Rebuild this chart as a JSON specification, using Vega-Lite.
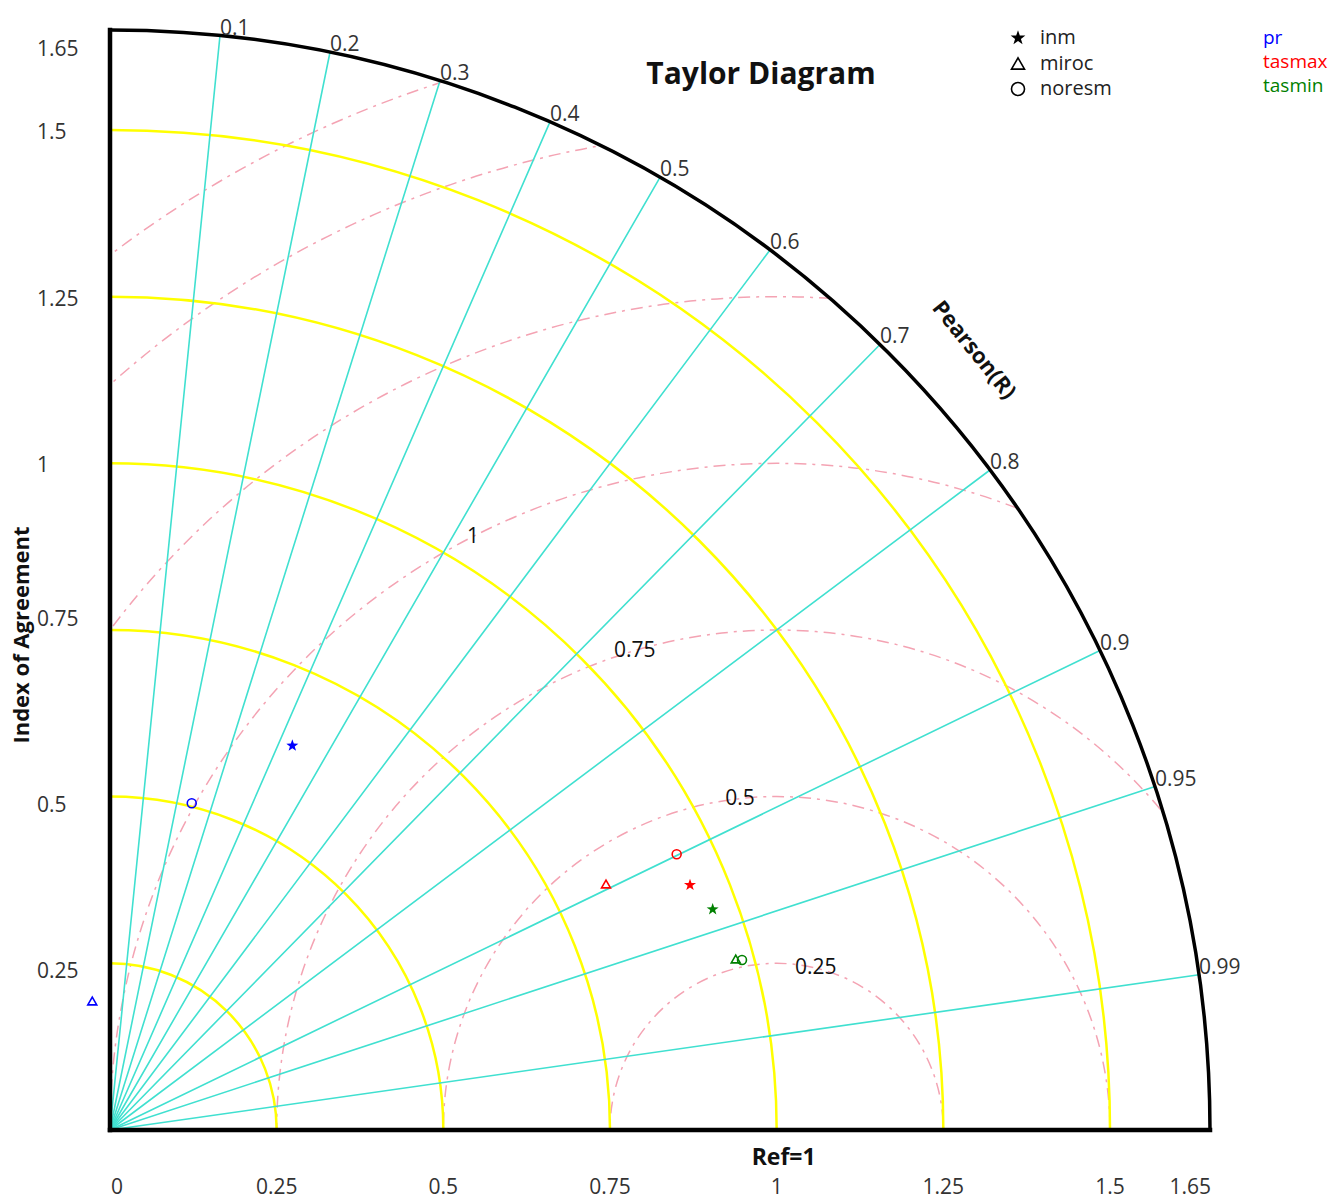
{
  "$schema": "https://vega.github.io/schema/vega-lite/v6.json",
  "width": 1100,
  "height": 1100,
  "autosize": {"type": "none"},
  "padding": {"left": 110, "top": 30, "right": 119, "bottom": 71},
  "background": "white",
  "config": {"view": {"stroke": null}, "font": "Open Sans"},
  "resolve": {"scale": {"yOffset": "independent"}},
  "datasets": {
    "pinkRings": [{"rho": 0.25}, {"rho": 0.5}, {"rho": 0.75}, {"rho": 1.0}, {"rho": 1.25}, {"rho": 1.5}, {"rho": 1.65}],
    "yellowRings": [{"r": 0.25}, {"r": 0.5}, {"r": 0.75}, {"r": 1.0}, {"r": 1.25}, {"r": 1.5}],
    "corr": [
      {"R": "0.1", "phi": 84.261},
      {"R": "0.2", "phi": 78.463},
      {"R": "0.3", "phi": 72.542},
      {"R": "0.4", "phi": 66.422},
      {"R": "0.5", "phi": 60.0},
      {"R": "0.6", "phi": 53.13},
      {"R": "0.7", "phi": 45.573},
      {"R": "0.8", "phi": 36.87},
      {"R": "0.9", "phi": 25.842},
      {"R": "0.95", "phi": 18.195},
      {"R": "0.99", "phi": 8.11}
    ],
    "pinkLabels": [
      {"rho": 0.25, "phi": 76.4, "label": "0.25"},
      {"rho": 0.5, "phi": 96.3, "label": "0.5"},
      {"rho": 0.75, "phi": 106.5, "label": "0.75"},
      {"rho": 1.0, "phi": 117.1, "label": "1"}
    ],
    "masks": [
      {"part": "outside quadrant", "from": 0, "to": -270, "r1": 2.8, "r0": 0},
      {"part": "beyond outer arc", "from": 90, "to": 0, "r1": 2.8, "r0": 1.65}
    ],
    "xTicks": [{"v": 0}, {"v": 0.25}, {"v": 0.5}, {"v": 0.75}, {"v": 1}, {"v": 1.25}, {"v": 1.5}, {"v": 1.65}],
    "yTicks": [{"v": 0.25}, {"v": 0.5}, {"v": 0.75}, {"v": 1}, {"v": 1.25}, {"v": 1.5}, {"v": 1.65}],
    "modelKeys": [{"model": "inm"}, {"model": "miroc"}, {"model": "noresm"}],
    "varKeys": [{"variable": "pr"}, {"variable": "tasmax"}, {"variable": "tasmin"}],
    "models": [
      {"variable": "pr", "model": "inm", "sx": 0.2735, "sy": 0.5765},
      {"variable": "pr", "model": "miroc", "sx": -0.0266, "sy": 0.1935},
      {"variable": "pr", "model": "noresm", "sx": 0.1226, "sy": 0.4901},
      {"variable": "tasmax", "model": "inm", "sx": 0.87, "sy": 0.3675},
      {"variable": "tasmax", "model": "miroc", "sx": 0.744, "sy": 0.369},
      {"variable": "tasmax", "model": "noresm", "sx": 0.85, "sy": 0.4136},
      {"variable": "tasmin", "model": "inm", "sx": 0.904, "sy": 0.331},
      {"variable": "tasmin", "model": "miroc", "sx": 0.9386, "sy": 0.2565},
      {"variable": "tasmin", "model": "noresm", "sx": 0.948, "sy": 0.255}
    ]
  },
  "layer": [
    {
      "data": {"name": "pinkRings"},
      "mark": {"type": "point", "shape": "circle", "filled": false, "stroke": "#f4a3b3", "strokeWidth": 1.5, "strokeDash": [12, 6, 3, 6], "opacity": 1},
      "encoding": {
        "x": {"datum": 1, "type": "quantitative", "scale": {"domain": [0, 1.65], "nice": false, "zero": false}, "axis": null},
        "y": {"datum": 0, "type": "quantitative", "scale": {"domain": [0, 1.65], "nice": false, "zero": false}, "axis": null},
        "size": {"field": "rho", "type": "quantitative", "scale": {"type": "pow", "exponent": 2, "domain": [0, 1.65], "range": [0, 4840000]}, "legend": null}
      }
    },
    {
      "data": {"name": "yellowRings"},
      "mark": {"type": "point", "shape": "circle", "filled": false, "stroke": "#ffff00", "strokeWidth": 2.5, "opacity": 1},
      "encoding": {
        "x": {"datum": 0, "type": "quantitative", "axis": null},
        "y": {"datum": 0, "type": "quantitative", "axis": null},
        "size": {"field": "r", "type": "quantitative", "legend": null}
      }
    },
    {
      "data": {"name": "corr"},
      "mark": {"type": "arc", "filled": false, "stroke": "#40e0d0", "strokeWidth": 1.6},
      "encoding": {
        "x": {"datum": 0, "type": "quantitative", "axis": null},
        "y": {"datum": 0, "type": "quantitative", "axis": null},
        "theta": {"field": "phi", "type": "quantitative", "stack": null, "scale": {"type": "linear", "domain": [90, 0], "range": [0, 1.5707963]}},
        "theta2": {"field": "phi"},
        "radius": {"datum": 1.65, "type": "quantitative", "scale": {"type": "linear", "domain": [0, 1.65], "range": [0, 1100], "zero": true}},
        "radius2": {"datum": 0}
      }
    },
    {
      "data": {"name": "masks"},
      "mark": {"type": "arc", "fill": "white", "stroke": "white", "strokeWidth": 0.5},
      "encoding": {
        "x": {"datum": 0, "type": "quantitative", "axis": null},
        "y": {"datum": 0, "type": "quantitative", "axis": null},
        "theta": {"field": "from", "type": "quantitative", "stack": null},
        "theta2": {"field": "to"},
        "radius": {"field": "r1", "type": "quantitative"},
        "radius2": {"field": "r0"}
      }
    },
    {
      "data": {"values": [{"part": "outer"}]},
      "mark": {"type": "arc", "filled": false, "stroke": "black", "strokeWidth": 3.5},
      "encoding": {
        "x": {"datum": 0, "type": "quantitative", "axis": null},
        "y": {"datum": 0, "type": "quantitative", "axis": null},
        "theta": {"datum": 90, "type": "quantitative", "stack": null},
        "theta2": {"datum": 0},
        "radius": {"datum": 1.65, "type": "quantitative"},
        "radius2": {"datum": 1.65}
      }
    },
    {
      "data": {"values": [{"axis": "y"}]},
      "mark": {"type": "rule", "color": "black", "strokeWidth": 4.5, "strokeCap": "square"},
      "encoding": {
        "x": {"datum": 0, "type": "quantitative", "axis": null},
        "y": {"datum": 0, "type": "quantitative", "axis": null},
        "y2": {"datum": 1.65}
      }
    },
    {
      "data": {"values": [{"axis": "x"}]},
      "mark": {"type": "rule", "color": "black", "strokeWidth": 4.5, "strokeCap": "square"},
      "encoding": {
        "x": {"datum": 0, "type": "quantitative", "axis": null},
        "x2": {"datum": 1.65},
        "y": {"datum": 0, "type": "quantitative", "axis": null}
      }
    },
    {
      "data": {"name": "xTicks"},
      "transform": [{"filter": "datum.v > 0 && datum.v < 1.6"}],
      "mark": {"type": "text", "align": "center", "baseline": "middle", "fontSize": 21, "color": "#333", "dy": 58},
      "encoding": {
        "x": {"field": "v", "type": "quantitative", "axis": null},
        "y": {"datum": 0, "type": "quantitative", "axis": null},
        "text": {"field": "v", "type": "nominal"}
      }
    },
    {
      "data": {"name": "xTicks"},
      "transform": [{"filter": "datum.v == 0"}],
      "mark": {"type": "text", "align": "left", "baseline": "middle", "fontSize": 21, "color": "#333", "dy": 58, "dx": 1},
      "encoding": {
        "x": {"field": "v", "type": "quantitative", "axis": null},
        "y": {"datum": 0, "type": "quantitative", "axis": null},
        "text": {"field": "v", "type": "nominal"}
      }
    },
    {
      "data": {"name": "xTicks"},
      "transform": [{"filter": "datum.v > 1.6"}],
      "mark": {"type": "text", "align": "right", "baseline": "middle", "fontSize": 21, "color": "#333", "dy": 58, "dx": 1},
      "encoding": {
        "x": {"field": "v", "type": "quantitative", "axis": null},
        "y": {"datum": 0, "type": "quantitative", "axis": null},
        "text": {"field": "v", "type": "nominal"}
      }
    },
    {
      "data": {"name": "yTicks"},
      "transform": [{"filter": "datum.v >= 1 && datum.v < 1.6"}],
      "mark": {"type": "text", "align": "left", "baseline": "middle", "fontSize": 21, "color": "#333", "dy": 3},
      "encoding": {
        "x": {"datum": -0.1095, "type": "quantitative", "axis": null},
        "y": {"field": "v", "type": "quantitative", "axis": null},
        "text": {"field": "v", "type": "nominal"}
      }
    },
    {
      "data": {"name": "yTicks"},
      "transform": [{"filter": "datum.v > 1.6"}],
      "mark": {"type": "text", "align": "left", "baseline": "middle", "fontSize": 21, "color": "#333", "dy": 20},
      "encoding": {
        "x": {"datum": -0.1095, "type": "quantitative", "axis": null},
        "y": {"field": "v", "type": "quantitative", "axis": null},
        "text": {"field": "v", "type": "nominal"}
      }
    },
    {
      "data": {"name": "yTicks"},
      "transform": [{"filter": "datum.v == 0.75"}],
      "mark": {"type": "text", "align": "left", "baseline": "middle", "fontSize": 21, "color": "#333", "dy": -10},
      "encoding": {
        "x": {"datum": -0.1095, "type": "quantitative", "axis": null},
        "y": {"field": "v", "type": "quantitative", "axis": null},
        "text": {"field": "v", "type": "nominal"}
      }
    },
    {
      "data": {"name": "yTicks"},
      "transform": [{"filter": "datum.v < 0.6"}],
      "mark": {"type": "text", "align": "left", "baseline": "middle", "fontSize": 21, "color": "#333", "dy": 9},
      "encoding": {
        "x": {"datum": -0.1095, "type": "quantitative", "axis": null},
        "y": {"field": "v", "type": "quantitative", "axis": null},
        "text": {"field": "v", "type": "nominal"}
      }
    },
    {
      "data": {"values": [{"t": "Ref=1"}]},
      "mark": {"type": "text", "align": "center", "baseline": "middle", "fontSize": 23, "fontWeight": "bold", "color": "#111", "dy": 28},
      "encoding": {
        "x": {"datum": 1.0105, "type": "quantitative", "axis": null},
        "y": {"datum": 0, "type": "quantitative", "axis": null},
        "text": {"field": "t", "type": "nominal"}
      }
    },
    {
      "data": {"values": [{"t": "Index of Agreement"}]},
      "mark": {"type": "text", "align": "center", "baseline": "middle", "fontSize": 22, "fontWeight": "bold", "color": "#111", "angle": 270},
      "encoding": {
        "x": {"datum": -0.132, "type": "quantitative", "axis": null},
        "y": {"datum": 0.7425, "type": "quantitative", "axis": null},
        "text": {"field": "t", "type": "nominal"}
      }
    },
    {
      "data": {"name": "corr"},
      "mark": {"type": "text", "align": "left", "baseline": "bottom", "fontSize": 21, "color": "#333", "dx": 0, "dy": 3},
      "encoding": {
        "x": {"datum": 0, "type": "quantitative", "axis": null},
        "y": {"datum": 0, "type": "quantitative", "axis": null},
        "theta": {"field": "phi", "type": "quantitative", "stack": null},
        "radius": {"datum": 1.65, "type": "quantitative"},
        "text": {"field": "R", "type": "nominal"}
      }
    },
    {
      "data": {"name": "pinkLabels"},
      "mark": {"type": "text", "align": "center", "baseline": "middle", "fontSize": 21, "color": "#111"},
      "encoding": {
        "x": {"datum": 1, "type": "quantitative", "axis": null},
        "y": {"datum": 0, "type": "quantitative", "axis": null},
        "theta": {"field": "phi", "type": "quantitative", "stack": null},
        "radius": {"field": "rho", "type": "quantitative"},
        "text": {"field": "label", "type": "nominal"}
      }
    },
    {
      "data": {"values": [{"t": "Taylor Diagram"}]},
      "mark": {"type": "text", "align": "center", "baseline": "middle", "fontSize": 30, "fontWeight": "bold", "color": "#111"},
      "encoding": {
        "x": {"datum": 0.9765, "type": "quantitative", "axis": null},
        "y": {"datum": 1.5825, "type": "quantitative", "axis": null},
        "text": {"field": "t", "type": "nominal"}
      }
    },
    {
      "data": {"values": [{"t": "Pearson(R)"}]},
      "mark": {"type": "text", "align": "center", "baseline": "middle", "fontSize": 22, "fontWeight": "bold", "color": "#111", "angle": 51},
      "encoding": {
        "x": {"datum": 1.296, "type": "quantitative", "axis": null},
        "y": {"datum": 1.17, "type": "quantitative", "axis": null},
        "text": {"field": "t", "type": "nominal"}
      }
    },
    {
      "data": {"name": "modelKeys"},
      "transform": [{"filter": "datum.model === 'inm'"}],
      "mark": {"type": "point", "filled": true, "color": "black", "size": 240, "opacity": 1},
      "encoding": {
        "x": {"datum": 1.362, "type": "quantitative", "axis": null},
        "y": {"datum": 1.638, "type": "quantitative", "axis": null},
        "yOffset": {"field": "model", "type": "nominal", "scale": {"type": "point", "domain": ["inm", "miroc", "noresm"], "range": [0, 51], "padding": 0}},
        "shape": {"field": "model", "type": "nominal", "scale": {"domain": ["inm", "miroc", "noresm"], "range": ["M0,-1L0.235,-0.324L0.951,-0.309L0.38,0.124L0.588,0.809L0,0.4L-0.588,0.809L-0.38,0.124L-0.951,-0.309L-0.235,-0.324Z", "triangle-up", "circle"]}, "legend": null}
      }
    },
    {
      "data": {"name": "modelKeys"},
      "transform": [{"filter": "datum.model !== 'inm'"}],
      "mark": {"type": "point", "filled": false, "color": "black", "size": 170, "strokeWidth": 1.6, "opacity": 1},
      "encoding": {
        "x": {"datum": 1.362, "type": "quantitative", "axis": null},
        "y": {"datum": 1.638, "type": "quantitative", "axis": null},
        "yOffset": {"field": "model", "type": "nominal", "scale": {"type": "point", "domain": ["inm", "miroc", "noresm"], "range": [0, 51], "padding": 0}},
        "shape": {"field": "model", "type": "nominal", "legend": null}
      }
    },
    {
      "data": {"name": "modelKeys"},
      "mark": {"type": "text", "align": "left", "baseline": "middle", "fontSize": 20, "color": "#222"},
      "encoding": {
        "x": {"datum": 1.395, "type": "quantitative", "axis": null},
        "y": {"datum": 1.638, "type": "quantitative", "axis": null},
        "yOffset": {"field": "model", "type": "nominal", "scale": {"type": "point", "domain": ["inm", "miroc", "noresm"], "range": [0, 51], "padding": 0}},
        "text": {"field": "model", "type": "nominal"}
      }
    },
    {
      "data": {"name": "varKeys"},
      "mark": {"type": "text", "align": "left", "baseline": "middle", "fontSize": 19},
      "encoding": {
        "x": {"datum": 1.7295, "type": "quantitative", "axis": null},
        "y": {"datum": 1.638, "type": "quantitative", "axis": null},
        "yOffset": {"field": "variable", "type": "nominal", "scale": {"type": "point", "domain": ["pr", "tasmax", "tasmin"], "range": [0, 48], "padding": 0}},
        "color": {"field": "variable", "type": "nominal", "scale": {"domain": ["pr", "tasmax", "tasmin"], "range": ["#0000ff", "#ff0000", "#008000"]}, "legend": null},
        "text": {"field": "variable", "type": "nominal"}
      }
    },
    {
      "data": {"name": "models"},
      "transform": [{"filter": "datum.model === 'inm'"}],
      "mark": {"type": "point", "filled": true, "size": 160, "opacity": 1},
      "encoding": {
        "x": {"field": "sx", "type": "quantitative", "axis": null},
        "y": {"field": "sy", "type": "quantitative", "axis": null},
        "color": {"field": "variable", "type": "nominal", "legend": null},
        "shape": {"field": "model", "type": "nominal", "legend": null}
      }
    },
    {
      "data": {"name": "models"},
      "transform": [{"filter": "datum.model !== 'inm'"}],
      "mark": {"type": "point", "filled": false, "size": 80, "strokeWidth": 1.6, "opacity": 1},
      "encoding": {
        "x": {"field": "sx", "type": "quantitative", "axis": null},
        "y": {"field": "sy", "type": "quantitative", "axis": null},
        "color": {"field": "variable", "type": "nominal", "legend": null},
        "shape": {"field": "model", "type": "nominal", "legend": null}
      }
    }
  ]
}
